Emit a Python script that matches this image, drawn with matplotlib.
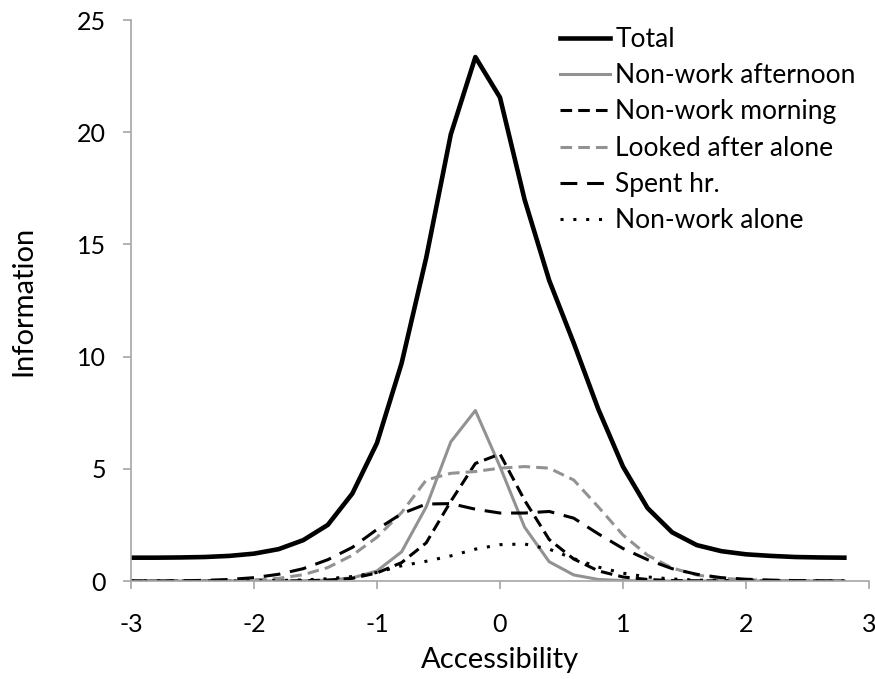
import matplotlib
matplotlib.use("Agg")
import matplotlib.pyplot as plt

# ability grid and information curves
theta = [-3.0, -2.8, -2.6, -2.4, -2.2, -2.0, -1.8, -1.6, -1.4, -1.2,
         -1.0, -0.8, -0.6, -0.4, -0.2, 0.0, 0.2, 0.4, 0.6, 0.8,
         1.0, 1.2, 1.4, 1.6, 1.8, 2.0, 2.2, 2.4, 2.6, 2.8]

total = [1.04, 1.04, 1.05, 1.07, 1.12, 1.22, 1.42, 1.82, 2.5, 3.9,
         6.15, 9.7, 14.4, 19.9, 23.35, 21.55, 17.0, 13.4, 10.6, 7.65,
         5.1, 3.25, 2.17, 1.6, 1.33, 1.19, 1.12, 1.07, 1.05, 1.04]

afternoon = [0.0, 0.0, 0.0, 0.0, 0.0, 0.0, 0.0, 0.01, 0.04, 0.14,
             0.45, 1.3, 3.3, 6.2, 7.6, 5.1, 2.4, 0.86, 0.27, 0.07,
             0.02, 0.0, 0.0, 0.0, 0.0, 0.0, 0.0, 0.0, 0.0, 0.0]

morning = [0.0, 0.0, 0.0, 0.0, 0.0, 0.0, 0.0, 0.01, 0.04, 0.12,
           0.36, 0.82, 1.7, 3.55, 5.24, 5.66, 3.6, 1.85, 0.98, 0.45,
           0.18, 0.07, 0.02, 0.01, 0.0, 0.0, 0.0, 0.0, 0.0, 0.0]

looked_after = [0.0, 0.0, 0.0, 0.01, 0.02, 0.05, 0.12, 0.28, 0.6, 1.15,
                1.95, 3.05, 4.5, 4.8, 4.88, 5.03, 5.1, 5.03, 4.5, 3.3,
                2.05, 1.15, 0.58, 0.27, 0.12, 0.06, 0.03, 0.01, 0.0, 0.0]

spent_hr = [0.0, 0.0, 0.01, 0.03, 0.07, 0.15, 0.3, 0.55, 0.95, 1.5,
            2.3, 3.0, 3.43, 3.45, 3.2, 3.03, 3.03, 3.1, 2.8, 2.1,
            1.45, 0.95, 0.55, 0.3, 0.15, 0.08, 0.04, 0.02, 0.01, 0.0]

alone = [0.0, 0.0, 0.0, 0.0, 0.0, 0.01, 0.02, 0.05, 0.1, 0.2,
         0.38, 0.68, 0.88, 1.12, 1.42, 1.62, 1.65, 1.42, 1.0, 0.62,
         0.35, 0.18, 0.09, 0.04, 0.02, 0.01, 0.0, 0.0, 0.0, 0.0]

plt.rcParams['font.family'] = ['Lato', 'DejaVu Sans']
plt.rcParams['axes.unicode_minus'] = False

fig = plt.figure(figsize=(8.75, 6.79), dpi=100)
ax = fig.add_axes([0.1497, 0.1443, 0.9931 - 0.1497, 0.9705 - 0.1443])

grey = '#929292'
ax.plot(theta, total, color='black', lw=3.3, label='Total')
ax.plot(theta, afternoon, color=grey, lw=2.2, label='Non-work afternoon')
ax.plot(theta, morning, color='black', lw=2.2, dashes=(3.8, 2.0),
        label='Non-work morning')
ax.plot(theta, looked_after, color=grey, lw=2.2, dashes=(3.8, 2.0),
        label='Looked after alone')
ax.plot(theta, spent_hr, color='black', lw=2.2, dashes=(5.5, 3.2),
        label='Spent hr.')
ax.plot(theta, alone, color='black', lw=2.2, dashes=(1.0, 3.2),
        label='Non-work alone')

ax.set_xlim(-3, 3)
ax.set_ylim(0, 25)
ax.set_xticks([-3, -2, -1, 0, 1, 2, 3])
ax.set_yticks([0, 5, 10, 15, 20, 25])

for side in ['top', 'right']:
    ax.spines[side].set_visible(False)
for side in ['left', 'bottom']:
    ax.spines[side].set_color('#a6a6a6')
    ax.spines[side].set_linewidth(1.2)
ax.tick_params(colors='#a6a6a6', labelcolor='black', length=6, width=1.2,
               labelsize=18, direction='out')
ax.tick_params(axis='x', pad=17)
ax.tick_params(axis='y', pad=12)

ax.set_xlabel('Accessibility', fontsize=21)
ax.set_ylabel('Information', fontsize=21)
ax.xaxis.set_label_coords(0.5, -0.117)
ax.yaxis.set_label_coords(-0.128, 0.5)

leg = ax.legend(loc='upper left', bbox_to_anchor=(0.581, 0.988), frameon=False,
                fontsize=19, handlelength=1.9, handletextpad=0.2,
                labelspacing=0.43, borderaxespad=0, borderpad=0)

fig.savefig('out.png', dpi=100)
